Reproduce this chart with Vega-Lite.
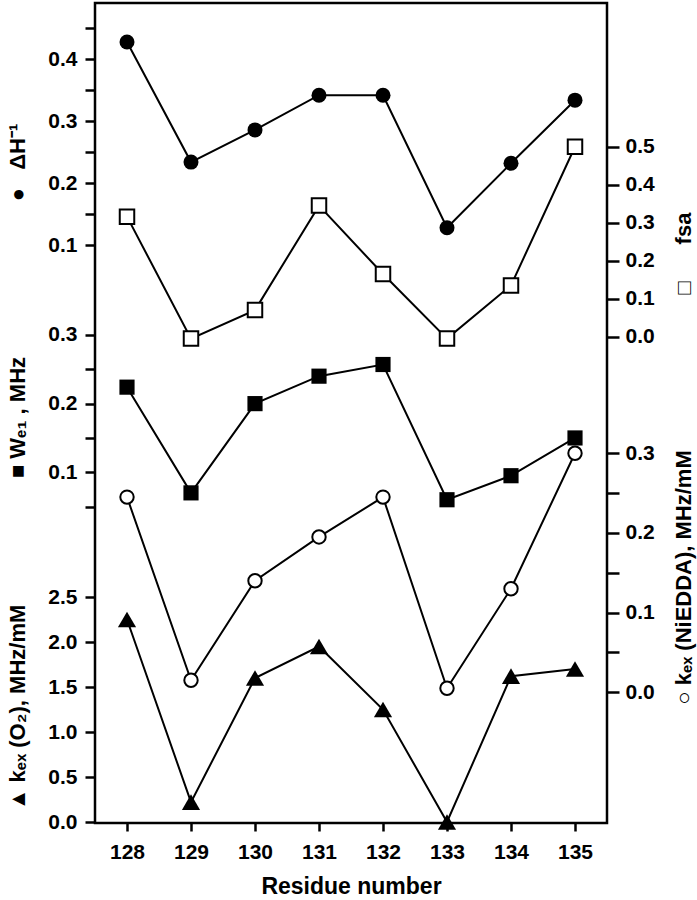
{
  "$schema": "https://vega.github.io/schema/vega-lite/v6.json",
  "width": 512,
  "height": 820,
  "autosize": {"type": "none"},
  "padding": {"left": 95, "top": 3, "right": 90, "bottom": 77},
  "background": "white",
  "config": {
    "view": {"stroke": "black", "strokeWidth": 2.5},
    "font": "Liberation Sans",
    "axis": {
      "domain": false, "grid": false, "ticks": true,
      "tickColor": "black", "tickWidth": 2.5, "tickSize": 10,
      "labelFont": "Liberation Sans", "labelFontSize": 21, "labelFontWeight": "bold", "labelColor": "black",
      "titleFont": "Liberation Sans", "titleFontSize": 22, "titleFontWeight": "bold", "titleColor": "black",
      "labelFlush": false, "labelOverlap": false, "labelPadding": 8
    }
  },
  "data": {"values": [
    {"residue": 128, "series": "dH", "value": 0.428},
    {"residue": 129, "series": "dH", "value": 0.234},
    {"residue": 130, "series": "dH", "value": 0.286},
    {"residue": 131, "series": "dH", "value": 0.342},
    {"residue": 132, "series": "dH", "value": 0.342},
    {"residue": 133, "series": "dH", "value": 0.128},
    {"residue": 134, "series": "dH", "value": 0.232},
    {"residue": 135, "series": "dH", "value": 0.334},
    {"residue": 128, "series": "fsa", "value": 0.316},
    {"residue": 129, "series": "fsa", "value": -0.005},
    {"residue": 130, "series": "fsa", "value": 0.07},
    {"residue": 131, "series": "fsa", "value": 0.345},
    {"residue": 132, "series": "fsa", "value": 0.165},
    {"residue": 133, "series": "fsa", "value": -0.005},
    {"residue": 134, "series": "fsa", "value": 0.135},
    {"residue": 135, "series": "fsa", "value": 0.5},
    {"residue": 128, "series": "We1", "value": 0.224},
    {"residue": 129, "series": "We1", "value": 0.07},
    {"residue": 130, "series": "We1", "value": 0.2},
    {"residue": 131, "series": "We1", "value": 0.24},
    {"residue": 132, "series": "We1", "value": 0.257},
    {"residue": 133, "series": "We1", "value": 0.06},
    {"residue": 134, "series": "We1", "value": 0.095},
    {"residue": 135, "series": "We1", "value": 0.15},
    {"residue": 128, "series": "Ni", "value": 0.245},
    {"residue": 129, "series": "Ni", "value": 0.015},
    {"residue": 130, "series": "Ni", "value": 0.14},
    {"residue": 131, "series": "Ni", "value": 0.195},
    {"residue": 132, "series": "Ni", "value": 0.245},
    {"residue": 133, "series": "Ni", "value": 0.005},
    {"residue": 134, "series": "Ni", "value": 0.13},
    {"residue": 135, "series": "Ni", "value": 0.3},
    {"residue": 128, "series": "O2", "value": 2.25},
    {"residue": 129, "series": "O2", "value": 0.22},
    {"residue": 130, "series": "O2", "value": 1.6},
    {"residue": 131, "series": "O2", "value": 1.95},
    {"residue": 132, "series": "O2", "value": 1.25},
    {"residue": 133, "series": "O2", "value": 0.0},
    {"residue": 134, "series": "O2", "value": 1.62},
    {"residue": 135, "series": "O2", "value": 1.7}
  ]},
  "encoding": {
    "x": {
      "field": "residue", "type": "quantitative",
      "scale": {"domain": [127.5, 135.5], "nice": false, "zero": false},
      "axis": {
        "values": [128, 129, 130, 131, 132, 133, 134, 135], "format": "d",
        "title": "Residue number", "titleFontSize": 23, "tickSize": 8, "labelPadding": 10,
        "titleY": 70, "titleBaseline": "alphabetic"
      }
    }
  },
  "layer": [
    {
      "transform": [{"filter": "datum.series === 'dH'"}],
      "encoding": {"y": {"field": "value", "type": "quantitative",
        "scale": {"domain": [-0.8338, 0.4910], "nice": false, "zero": false},
        "axis": {"orient": "left", "values": [0.1, 0.15, 0.2, 0.25, 0.3, 0.35, 0.4, 0.45],
          "labelExpr": "abs(datum.value*10 - round(datum.value*10)) > 0.01 ? '' : format(datum.value, '.1f')",
          "title": "●\u00a0\u00a0\u00a0ΔH⁻¹", "titleAngle": 270, "titleX": -78, "titleY": 159, "titleAlign": "center", "titleBaseline": "middle"}}},
      "layer": [
        {"mark": {"type": "line", "color": "black", "strokeWidth": 2}},
        {"mark": {"type": "point", "shape": "circle", "filled": true, "fill": "black", "size": 225, "opacity": 1}}
      ]
    },
    {
      "transform": [{"filter": "datum.series === 'fsa'"}],
      "encoding": {"y": {"field": "value", "type": "quantitative",
        "scale": {"domain": [-1.2797, 0.8782], "nice": false, "zero": false},
        "axis": {"orient": "right", "values": [0, 0.1, 0.2, 0.3, 0.4, 0.5], "format": ".1f", "labelPadding": 6, "tickSize": 12,
          "title": "□\u00a0\u00a0\u00a0\u00a0\u00a0\u00a0fsa", "titleAngle": 270, "titleX": 76, "titleY": 250, "titleAlign": "center", "titleBaseline": "middle"}}},
      "layer": [
        {"mark": {"type": "line", "color": "black", "strokeWidth": 2}},
        {"mark": {"type": "point", "shape": "square", "filled": true, "fill": "white", "stroke": "black", "strokeWidth": 2, "size": 210, "opacity": 1}}
      ]
    },
    {
      "transform": [{"filter": "datum.series === 'We1'"}],
      "encoding": {"y": {"field": "value", "type": "quantitative",
        "scale": {"domain": [-0.4109, 0.7836], "nice": false, "zero": false},
        "axis": {"orient": "left", "values": [0.05, 0.1, 0.15, 0.2, 0.25, 0.3],
          "labelExpr": "abs(datum.value*10 - round(datum.value*10)) > 0.01 ? '' : format(datum.value, '.1f')",
          "title": "■\u00a0Wₑ₁ , MHz", "titleAngle": 270, "titleX": -78, "titleY": 414, "titleAlign": "center", "titleBaseline": "middle"}}},
      "layer": [
        {"mark": {"type": "line", "color": "black", "strokeWidth": 2}},
        {"mark": {"type": "point", "shape": "square", "filled": true, "fill": "black", "size": 230, "opacity": 1}}
      ]
    },
    {
      "transform": [{"filter": "datum.series === 'Ni'"}],
      "encoding": {"y": {"field": "value", "type": "quantitative",
        "scale": {"domain": [-0.1641, 0.8652], "nice": false, "zero": false},
        "axis": {"orient": "right", "values": [0, 0.05, 0.1, 0.15, 0.2, 0.25, 0.3], "labelPadding": 6, "tickSize": 12,
          "labelExpr": "abs(datum.value*10 - round(datum.value*10)) > 0.01 ? '' : format(datum.value, '.1f')",
          "title": "○\u00a0kₑₓ (NiEDDA), MHz/mM", "titleAngle": 270, "titleX": 76, "titleY": 574, "titleAlign": "center", "titleBaseline": "middle"}}},
      "layer": [
        {"mark": {"type": "line", "color": "black", "strokeWidth": 2}},
        {"mark": {"type": "point", "shape": "circle", "filled": true, "fill": "white", "stroke": "black", "strokeWidth": 2, "size": 180, "opacity": 1}}
      ]
    },
    {
      "transform": [{"filter": "datum.series === 'O2'"}],
      "encoding": {"y": {"field": "value", "type": "quantitative",
        "scale": {"domain": [-0.0111, 9.1], "nice": false, "zero": false},
        "axis": {"orient": "left", "values": [0, 0.5, 1, 1.5, 2, 2.5], "format": ".1f",
          "title": "▲\u00a0kₑₓ (O₂), MHz/mM", "titleAngle": 270, "titleX": -78, "titleY": 704, "titleAlign": "center", "titleBaseline": "middle"}}},
      "layer": [
        {"mark": {"type": "line", "color": "black", "strokeWidth": 2}},
        {"mark": {"type": "point", "shape": "triangle-up", "filled": true, "fill": "black", "size": 330, "opacity": 1}}
      ]
    }
  ],
  "resolve": {"scale": {"y": "independent"}, "axis": {"y": "independent"}}
}
